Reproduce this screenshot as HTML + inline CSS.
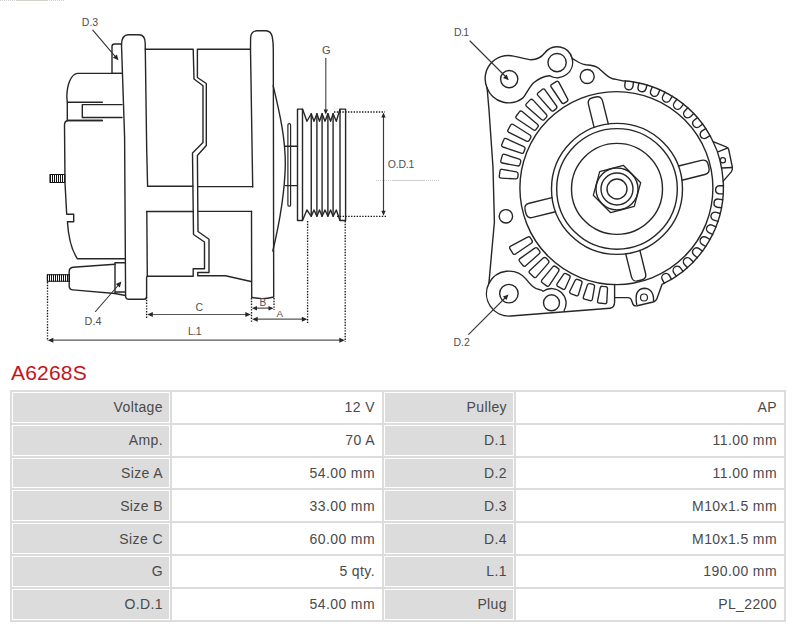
<!DOCTYPE html>
<html><head><meta charset="utf-8"><style>
html,body{margin:0;padding:0;background:#fff;}
body{width:800px;height:627px;position:relative;overflow:hidden;font-family:"Liberation Sans",sans-serif;}
h1{position:absolute;left:11px;top:360.5px;margin:0;font-weight:normal;font-size:21px;line-height:24px;color:#c3141c;letter-spacing:0.2px;}
table{position:absolute;left:10px;top:390px;border-collapse:separate;border-spacing:2px;background:#dcdcdc;}
td{border:1px solid #fff;padding:0 6px 0 0;height:28.8px;box-sizing:content-box;text-align:right;font-size:14px;color:#4a4a4a;background:#fff;letter-spacing:0.4px;}
td.h{background:#dcdcdc;}
</style></head><body>
<svg width="800" height="350" viewBox="0 0 800 350" style="position:absolute;left:0;top:0" font-family="Liberation Sans, sans-serif">
<g stroke="#262626" stroke-width="1.4" fill="none" stroke-linejoin="round" stroke-linecap="round">
<rect x="50" y="174.5" width="14.8" height="8" fill="none" stroke="#111" stroke-width="1.1"/>
<line x1="50.5" y1="174.5" x2="50.5" y2="182.5" stroke="#111" stroke-width="1"/>
<line x1="52.5" y1="174.5" x2="52.5" y2="182.5" stroke="#111" stroke-width="1"/>
<line x1="54.5" y1="174.5" x2="54.5" y2="182.5" stroke="#111" stroke-width="1"/>
<line x1="56.5" y1="174.5" x2="56.5" y2="182.5" stroke="#111" stroke-width="1"/>
<line x1="58.5" y1="174.5" x2="58.5" y2="182.5" stroke="#111" stroke-width="1"/>
<line x1="60.5" y1="174.5" x2="60.5" y2="182.5" stroke="#111" stroke-width="1"/>
<line x1="62.5" y1="174.5" x2="62.5" y2="182.5" stroke="#111" stroke-width="1"/>
<line x1="64.5" y1="174.5" x2="64.5" y2="182.5" stroke="#111" stroke-width="1"/>
<path d="M122 73.4 H77.3 C71 74.5 67 84 66.8 97 L67.3 102.2 H102.4" />
<path d="M67.3 102.2 V120.5 H102.4" />
<path d="M122 104.6 H82.3 V117.5 H122" />
<path d="M102.4 120.5 H68 Q64.5 121 64.5 125 L65 183 L66.7 214.2 H73.7 V221.7 H67.4 C68.5 238 72 251 77.5 258.8 H125.3" />
<path d="M121.5 73.4 H112 V46.5 Q112 44 114.5 44 H121.5" />
<path d="M147.6 186.2 L146.7 150 L145.2 43 Q145 34.7 139 34.7 H128.5 Q121.5 34.7 121.5 45 L124.6 137 L125.6 296 Q125.6 299.3 129 299.3 H144 Q146.6 299.3 146.6 296.5 L146.6 278 Q146.6 276.5 147.4 276.3 M146.8 211.5 L147.3 276.5" />
<path d="M145.2 49.3 H193.2 L194 79 L203 85.7 V142.5 L192.5 153 L193.5 234.5 L204.5 242 V268.7 H193.2 V276.2 H147.4" />
<path d="M250.5 49.3 H197.4 V77.5 L206.3 83.5 V145.5 L197.4 155.5 L198 231.5 L209 239.3 V272.5 H197.7 V275.8 H225.5 L251 281.5" />
<path d="M147.6 186.2 H192.8 M197.6 186.6 H252.7" />
<path d="M146.8 211.5 H193 M198 211.4 H251.5" />
<path d="M252.7 187 L250.5 49.3 L250.6 38 Q251 30.8 257 30.8 H266 Q271 31 272.3 37 Q273.3 42 273.3 50 L273.7 297 Q262.5 300 251.7 297.3 L251.5 211.3" />
<path d="M273.2 85.8 C280.5 116 285.5 140 285.3 165 C284.8 190 279 225 272.8 251" />
<rect x="287.9" y="123.6" width="2.7" height="82.6" rx="1.3" fill="none" stroke="#262626" stroke-width="1.2"/>
<path d="M285.2 146.3 H297.5 M285.2 185.6 H297.5" />
<path d="M297.5 220.5 V109.1 H302.5 L306.9 121.25 L311.25 113.75 L314 121.25 L316.9 113.75 L319.5 121.25 L322.1 113.75 L325 121.25 L327.9 113.75 L330.6 121.25 L333.1 113.75 L336.3 121.25 L340 109.1 H345.6 V220.5 H340 L336.3 210 L333.1 216.3 L330.6 210 L327.9 216.3 L325 210 L322.1 216.3 L319.5 210 L316.9 216.3 L314 210 L311.25 216.3 L306.9 210 L302.5 220.5 Z" />
<path d="M302.5 109.1 V220.5" />
<path d="M311.25 113.75 V216.3" />
<path d="M316.9 113.75 V216.3" />
<path d="M322.1 113.75 V216.3" />
<path d="M327.9 113.75 V216.3" />
<path d="M333.1 113.75 V216.3" />
<path d="M340 109.1 V220.5" />
<line x1="325.8" y1="58.2" x2="325.8" y2="110" stroke="#444" stroke-width="1.1"/>
<path d="M325.8 114.5 L323.6 109.5 L328.0 109.5 Z" fill="#262626" stroke="none"/>
<text x="326.3" y="53.7" font-size="11" fill="#505050" stroke="none" text-anchor="middle" letter-spacing="0">G</text>
<line x1="334" y1="112" x2="385" y2="112" stroke="#1a1a1a" stroke-width="1.35" stroke-dasharray="1.4 1.4" stroke-linecap="butt"/>
<line x1="337" y1="216.3" x2="387" y2="216.3" stroke="#1a1a1a" stroke-width="1.35" stroke-dasharray="1.4 1.4" stroke-linecap="butt"/>
<line x1="383.5" y1="116" x2="383.5" y2="212" stroke="#3a3a3a" stroke-width="1.15"/>
<path d="M383.5 112.5 L385.7 117.5 L381.3 117.5 Z" fill="#262626" stroke="none"/>
<path d="M383.5 215.8 L381.3 210.8 L385.7 210.8 Z" fill="#262626" stroke="none"/>
<text x="387.8" y="168" font-size="10.5" fill="#505050" stroke="none" text-anchor="start" letter-spacing="-0.2">O.D.1</text>
<line x1="376" y1="180.5" x2="392" y2="180.5" stroke="#c8c8c8" stroke-width="1" stroke-dasharray="1 1" stroke-linecap="butt"/>
<line x1="392" y1="180.5" x2="424" y2="180.5" stroke="#d0d0d0" stroke-width="1" stroke-linecap="butt"/>
<line x1="424" y1="180.5" x2="440" y2="180.5" stroke="#c8c8c8" stroke-width="1" stroke-dasharray="1 1" stroke-linecap="butt"/>
<line x1="92.8" y1="30.2" x2="115.5" y2="56.8" stroke="#333" stroke-width="1.1"/>
<path d="M118.5 60.3 L112.9 57.8 L116.9 54.4 Z" fill="#262626" stroke="none"/>
<text x="81.8" y="25.7" font-size="10.5" fill="#505050" stroke="none" text-anchor="start" letter-spacing="0">D.3</text>
<path d="M115 264.2 L73 267.2 Q69.2 267.7 69.2 271.5 V286 Q69.2 289.7 73 289.9 L115 293.5 L125.5 295.5" />
<path d="M115 262.7 H125.3 M115 262.7 V293.5 M115 292 H125.3" />
<rect x="47.3" y="274.8" width="22" height="6.4" fill="none" stroke="#111" stroke-width="1.1"/>
<line x1="47.5" y1="274.8" x2="47.5" y2="281.2" stroke="#111" stroke-width="1"/>
<line x1="49.5" y1="274.8" x2="49.5" y2="281.2" stroke="#111" stroke-width="1"/>
<line x1="51.5" y1="274.8" x2="51.5" y2="281.2" stroke="#111" stroke-width="1"/>
<line x1="53.5" y1="274.8" x2="53.5" y2="281.2" stroke="#111" stroke-width="1"/>
<line x1="55.5" y1="274.8" x2="55.5" y2="281.2" stroke="#111" stroke-width="1"/>
<line x1="57.5" y1="274.8" x2="57.5" y2="281.2" stroke="#111" stroke-width="1"/>
<line x1="59.5" y1="274.8" x2="59.5" y2="281.2" stroke="#111" stroke-width="1"/>
<line x1="61.5" y1="274.8" x2="61.5" y2="281.2" stroke="#111" stroke-width="1"/>
<line x1="63.5" y1="274.8" x2="63.5" y2="281.2" stroke="#111" stroke-width="1"/>
<line x1="65.5" y1="274.8" x2="65.5" y2="281.2" stroke="#111" stroke-width="1"/>
<line x1="67.5" y1="274.8" x2="67.5" y2="281.2" stroke="#111" stroke-width="1"/>
<line x1="69.5" y1="274.8" x2="69.5" y2="281.2" stroke="#111" stroke-width="1"/>
<line x1="95.5" y1="311.5" x2="118.5" y2="285" stroke="#333" stroke-width="1.1"/>
<path d="M121.4 281.6 L119.8 287.5 L115.8 284.1 Z" fill="#262626" stroke="none"/>
<text x="84.6" y="325" font-size="10.8" fill="#505050" stroke="none" text-anchor="start" letter-spacing="0">D.4</text>
<line x1="47.5" y1="282" x2="47.5" y2="341" stroke="#1a1a1a" stroke-width="1.35" stroke-dasharray="1.4 1.4" stroke-linecap="butt"/>
<line x1="146.6" y1="297" x2="146.6" y2="318" stroke="#1a1a1a" stroke-width="1.35" stroke-dasharray="1.4 1.4" stroke-linecap="butt"/>
<line x1="251.5" y1="298" x2="251.5" y2="322" stroke="#1a1a1a" stroke-width="1.35" stroke-dasharray="1.4 1.4" stroke-linecap="butt"/>
<line x1="274" y1="298" x2="274" y2="310" stroke="#1a1a1a" stroke-width="1.35" stroke-dasharray="1.4 1.4" stroke-linecap="butt"/>
<line x1="307.6" y1="221" x2="307.6" y2="323" stroke="#1a1a1a" stroke-width="1.35" stroke-dasharray="1.4 1.4" stroke-linecap="butt"/>
<line x1="345.2" y1="221" x2="345.2" y2="342" stroke="#1a1a1a" stroke-width="1.35" stroke-dasharray="1.4 1.4" stroke-linecap="butt"/>
<line x1="151" y1="314.5" x2="247" y2="314.5" stroke="#555" stroke-width="1.2"/>
<path d="M147.3 314.5 L152.8 312.0 L152.8 317.0 Z" fill="#262626" stroke="none"/>
<path d="M250.8 314.5 L245.3 317.0 L245.3 312.0 Z" fill="#262626" stroke="none"/>
<text x="199.2" y="310.7" font-size="10.5" fill="#505050" stroke="none" text-anchor="middle" letter-spacing="0">C</text>
<line x1="256" y1="308.2" x2="269" y2="308.2" stroke="#555" stroke-width="1.2"/>
<path d="M252.0 308.2 L257.0 305.9 L257.0 310.5 Z" fill="#262626" stroke="none"/>
<path d="M273.5 308.2 L268.5 310.5 L268.5 305.9 Z" fill="#262626" stroke="none"/>
<text x="262.9" y="306" font-size="10" fill="#505050" stroke="none" text-anchor="middle" letter-spacing="0">B</text>
<line x1="256" y1="319.2" x2="303" y2="319.2" stroke="#555" stroke-width="1.2"/>
<path d="M252.2 319.2 L257.7 316.7 L257.7 321.7 Z" fill="#262626" stroke="none"/>
<path d="M307.3 319.2 L301.8 321.7 L301.8 316.7 Z" fill="#262626" stroke="none"/>
<text x="279.8" y="317.2" font-size="9.8" fill="#505050" stroke="none" text-anchor="middle" letter-spacing="0">A</text>
<line x1="52" y1="340.2" x2="340" y2="340.2" stroke="#555" stroke-width="1.2"/>
<path d="M47.8 340.2 L53.3 337.7 L53.3 342.7 Z" fill="#262626" stroke="none"/>
<path d="M344.8 340.2 L339.3 342.7 L339.3 337.7 Z" fill="#262626" stroke="none"/>
<text x="194.5" y="334.7" font-size="10.5" fill="#505050" stroke="none" text-anchor="middle" letter-spacing="-0.6">L.1</text>
<circle cx="617.0" cy="189.0" r="10" fill="none" stroke="#262626" stroke-width="1.4"/>
<circle cx="617.0" cy="189.0" r="16" fill="none" stroke="#262626" stroke-width="1.4"/>
<circle cx="617.0" cy="189.0" r="21" fill="none" stroke="#262626" stroke-width="1.4"/>
<polygon points="623.3,165.3 640.7,182.7 634.3,206.3 610.7,212.7 593.3,195.3 599.7,171.7" fill="none" stroke="#262626" stroke-width="1.3"/>
<circle cx="617.0" cy="188.9" r="45.5" fill="none" stroke="#262626" stroke-width="1.4"/>
<circle cx="617.0" cy="188.9" r="60.3" fill="none" stroke="#262626" stroke-width="1.4"/>
<circle cx="617.0" cy="188.9" r="65.5" fill="none" stroke="#262626" stroke-width="1.4"/>
<circle cx="616.4" cy="188.1" r="96.5" fill="none" stroke="#262626" stroke-width="1.4"/>
<path d="M608.3 123.9 L602.6 101.1 Q601.3 95.6 595.8 97.0 L592.5 97.8 Q587.1 99.2 588.5 104.6 L594.1 127.4" />
<path d="M682.0 180.2 L704.8 174.5 Q710.3 173.2 708.9 167.7 L708.1 164.4 Q706.7 159.0 701.3 160.4 L678.5 166.0" />
<path d="M625.7 253.9 L631.4 276.7 Q632.7 282.2 638.2 280.8 L641.5 280.0 Q646.9 278.6 645.5 273.2 L639.9 250.4" />
<path d="M552.0 197.6 L529.2 203.3 Q523.7 204.6 525.1 210.1 L525.9 213.4 Q527.3 218.8 532.7 217.4 L555.5 211.8" />
<path d="M517.8 177.1 Q517.5 179.1 515.5 178.9 L501.1 178.1 Q499.1 178.0 499.3 176.1 L500.0 170.9 Q500.2 168.9 502.2 169.3 L516.4 171.9 Q518.3 172.3 518.1 174.3 Z" fill="none" stroke="#262626" stroke-width="1.35"/>
<path d="M520.0 164.3 Q519.5 166.3 517.5 165.9 L502.3 163.0 Q500.4 162.6 500.9 160.7 L502.2 155.6 Q502.7 153.7 504.6 154.3 L519.2 159.1 Q521.1 159.7 520.7 161.6 Z" fill="none" stroke="#262626" stroke-width="1.35"/>
<path d="M523.8 152.0 Q523.1 153.9 521.2 153.2 L503.0 147.0 Q501.1 146.3 501.8 144.5 L503.8 139.7 Q504.5 137.8 506.3 138.6 L523.8 146.7 Q525.6 147.5 524.8 149.4 Z" fill="none" stroke="#262626" stroke-width="1.35"/>
<path d="M529.2 140.3 Q528.2 142.0 526.4 141.1 L508.9 132.4 Q507.1 131.5 508.0 129.8 L510.6 125.2 Q511.6 123.5 513.3 124.5 L529.9 135.0 Q531.6 136.1 530.6 137.8 Z" fill="none" stroke="#262626" stroke-width="1.35"/>
<path d="M536.1 129.3 Q534.9 130.9 533.3 129.8 L516.8 118.8 Q515.1 117.6 516.3 116.0 L519.4 111.9 Q520.6 110.3 522.2 111.5 L537.4 124.2 Q539.0 125.5 537.8 127.1 Z" fill="none" stroke="#262626" stroke-width="1.35"/>
<path d="M544.4 119.4 Q543.0 120.8 541.5 119.5 L526.6 106.4 Q525.1 105.1 526.5 103.6 L530.1 99.9 Q531.5 98.5 532.9 99.9 L546.4 114.5 Q547.7 115.9 546.3 117.4 Z" fill="none" stroke="#262626" stroke-width="1.35"/>
<path d="M553.8 110.6 Q552.3 111.8 551.0 110.3 L537.9 95.4 Q536.6 93.9 538.2 92.7 L542.2 89.4 Q543.8 88.2 545.0 89.8 L556.5 106.0 Q557.6 107.6 556.0 108.9 Z" fill="none" stroke="#262626" stroke-width="1.35"/>
<path d="M564.4 103.1 Q562.7 104.1 561.6 102.5 L551.2 87.0 Q550.1 85.3 551.8 84.3 L556.2 81.7 Q558.0 80.6 558.9 82.4 L567.6 98.9 Q568.5 100.7 566.8 101.7 Z" fill="none" stroke="#262626" stroke-width="1.35"/>
<path d="M605.6 286.6 Q607.6 286.9 607.5 288.9 L606.8 301.9 Q606.8 303.9 604.8 303.7 L599.2 303.0 Q597.2 302.7 597.6 300.8 L600.2 288.0 Q600.6 286.0 602.6 286.3 Z" fill="none" stroke="#262626" stroke-width="1.35"/>
<path d="M592.9 284.4 Q594.9 284.9 594.5 286.9 L592.4 299.1 Q592.0 301.1 590.1 300.6 L584.7 299.2 Q582.7 298.7 583.4 296.8 L587.4 285.0 Q588.1 283.2 590.0 283.7 Z" fill="none" stroke="#262626" stroke-width="1.35"/>
<path d="M580.7 280.6 Q582.5 281.3 581.9 283.2 L578.5 294.5 Q577.9 296.4 576.0 295.6 L570.8 293.6 Q569.0 292.8 569.9 291.0 L575.1 280.5 Q576.0 278.7 577.9 279.5 Z" fill="none" stroke="#262626" stroke-width="1.35"/>
<path d="M569.0 275.2 Q570.8 276.2 569.9 278.0 L565.3 288.3 Q564.5 290.1 562.7 289.1 L557.8 286.4 Q556.1 285.4 557.2 283.7 L563.5 274.4 Q564.6 272.8 566.4 273.8 Z" fill="none" stroke="#262626" stroke-width="1.35"/>
<path d="M558.1 268.4 Q559.7 269.6 558.6 271.3 L549.3 285.4 Q548.2 287.1 546.6 285.9 L542.3 282.7 Q540.7 281.5 542.0 279.9 L552.8 266.9 Q554.1 265.4 555.7 266.6 Z" fill="none" stroke="#262626" stroke-width="1.35"/>
<path d="M548.2 260.2 Q549.7 261.6 548.4 263.1 L536.4 276.9 Q535.1 278.4 533.7 277.0 L529.8 273.3 Q528.3 271.9 529.8 270.5 L543.2 258.1 Q544.6 256.8 546.1 258.1 Z" fill="none" stroke="#262626" stroke-width="1.35"/>
<path d="M539.5 250.9 Q540.7 252.4 539.2 253.8 L525.7 265.7 Q524.2 267.1 523.0 265.5 L519.6 261.3 Q518.4 259.7 520.0 258.6 L534.7 248.1 Q536.3 246.9 537.6 248.5 Z" fill="none" stroke="#262626" stroke-width="1.35"/>
<path d="M532.0 240.4 Q533.0 242.1 531.3 243.3 L515.5 254.0 Q513.8 255.1 512.8 253.4 L510.0 248.8 Q509.0 247.1 510.7 246.1 L527.6 237.1 Q529.4 236.2 530.4 237.9 Z" fill="none" stroke="#262626" stroke-width="1.35"/>
<path d="M633.5 81.9 L633.0 86.2 A4.1 4.1 0 0 1 624.8 85.2 L625.4 80.9" />
<path d="M647.0 85.0 L645.9 89.1 A4.1 4.1 0 0 1 638.0 87.1 L639.0 82.9" />
<path d="M659.9 89.8 L658.3 93.8 A4.1 4.1 0 0 1 650.7 90.7 L652.3 86.7" />
<path d="M672.2 96.2 L670.1 100.0 A4.1 4.1 0 0 1 662.9 96.0 L665.0 92.2" />
<path d="M683.5 104.1 L680.9 107.6 A4.1 4.1 0 0 1 674.3 102.7 L676.9 99.3" />
<path d="M693.7 113.5 L690.7 116.6 A4.1 4.1 0 0 1 684.8 110.9 L687.8 107.8" />
<path d="M702.6 124.0 L699.2 126.7 A4.1 4.1 0 0 1 694.1 120.3 L697.5 117.6" />
<path d="M710.0 135.7 L706.4 137.9 A4.1 4.1 0 0 1 702.1 130.9 L705.8 128.7" />
<path d="M723.3 193.9 L719.0 193.8 A4.1 4.1 0 0 1 719.2 185.7 L723.5 185.7" />
<path d="M721.5 207.8 L717.3 207.2 A4.1 4.1 0 0 1 718.5 199.1 L722.8 199.7" />
<path d="M718.0 221.4 L713.9 220.2 A4.1 4.1 0 0 1 716.2 212.3 L720.3 213.5" />
<path d="M712.7 234.4 L708.8 232.6 A4.1 4.1 0 0 1 712.1 225.1 L716.0 226.9" />
<path d="M705.8 246.5 L702.1 244.3 A4.1 4.1 0 0 1 706.4 237.3 L710.0 239.5" />
<path d="M697.3 257.7 L694.0 255.0 A4.1 4.1 0 0 1 699.1 248.6 L702.5 251.3" />
<path d="M687.5 267.7 L684.5 264.6 A4.1 4.1 0 0 1 690.4 258.9 L693.4 262.0" />
<path d="M676.4 276.3 L673.9 272.8 A4.1 4.1 0 0 1 680.5 267.9 L683.0 271.4" />
<path d="M664.4 283.3 L662.3 279.6 A4.1 4.1 0 0 1 669.5 275.6 L671.5 279.4" />
<path d="M487.1 88 A23.2 23.2 0 0 1 513.7 56.1 C520 57 526 59.7 531.25 59.7 C537 59.7 541.5 57 544.7 53.0 A15.5 15.5 0 0 1 572.1 58.3 C577 61 580 64 586 64.8 C592 65.3 596 66 599 68.5 C603 72 607 77 612 78.5 C615 79.3 618 79.6 622.0 80.7 A107 107 0 0 1 713.1 141.7 L726.2 146.8 Q728.5 147.8 728.8 150 L732.4 167.4 Q732.5 170 731.3 171.9 L723.2 181.1 A107 107 0 0 1 662.0 284.4 L657.5 297 Q656.5 301 653 302 L637.2 305.8 Q633.5 306.3 632.7 303.5 L631.2 299.5 Q630.2 297.6 628 297.6 H614.6" />
<path d="M614.6 284.4 V302 Q614.4 307.9 610 308.2 L510.7 316.0 A22.5 22.5 0 0 1 488.9 283.4 L494.4 222 L493 167.5 L489 110 L487.1 88" />
<path d="M717.9 151.8 L727.9 147.9 M721.8 168 L732 167.5" />
<path d="M713.1 141.7 Q721.5 158 723.2 181.1" />
<path d="M487.1 88 A23.2 23.2 0 0 0 523.0 97.9 C527 93 529 87 534 82.5 C538 79 543 76.5 549.4 75.7 A15.5 15.5 0 0 0 572.1 58.3" />
<path d="M488.9 283.4 A22.5 22.5 0 0 1 526.1 279.1 C530 284 534 289.3 540 289.8 Q541.5 289.8 543.1 291.2 A14.6 14.6 0 0 1 564.1 310.5" />
<circle cx="509.2" cy="79.1" r="8.6" fill="none" stroke="#262626" stroke-width="1.4"/>
<circle cx="508.9" cy="293.6" r="9.25" fill="none" stroke="#262626" stroke-width="1.4"/>
<circle cx="557.1" cy="62.6" r="9.15" fill="none" stroke="#262626" stroke-width="1.4"/>
<circle cx="551.5" cy="302.8" r="8" fill="none" stroke="#262626" stroke-width="1.4"/>
<circle cx="587.2" cy="76.5" r="7" fill="none" stroke="#262626" stroke-width="1.4"/>
<circle cx="505.9" cy="216.3" r="6.7" fill="none" stroke="#262626" stroke-width="1.4"/>
<circle cx="722.9" cy="160.2" r="2.6" fill="none" stroke="#262626" stroke-width="1.2"/>
<circle cx="644.0" cy="297.5" r="3.5" fill="none" stroke="#262626" stroke-width="1.2"/>
<path d="M636.7 304.3 Q634 289 644 288.2 Q654 288.5 653.6 301.5" />
<line x1="470" y1="41" x2="505.5" y2="76.5" stroke="#333" stroke-width="1.1"/>
<path d="M508.8 80.2 L503.1 78.1 L506.7 74.5 Z" fill="#262626" stroke="none"/>
<text x="454" y="36" font-size="10.5" fill="#505050" stroke="none" text-anchor="start" letter-spacing="-0.6">D.1</text>
<line x1="468.7" y1="334.4" x2="505" y2="298" stroke="#333" stroke-width="1.1"/>
<path d="M508.6 294.4 L506.5 300.1 L502.9 296.5 Z" fill="#262626" stroke="none"/>
<text x="453.4" y="345.9" font-size="10.5" fill="#505050" stroke="none" text-anchor="start" letter-spacing="0">D.2</text>
<line x1="0" y1="0.5" x2="16" y2="0.5" stroke="#d0d0d0" stroke-width="1" stroke-dasharray="1 1" stroke-linecap="butt"/>
<line x1="16" y1="0.5" x2="48" y2="0.5" stroke="#d4d0cc" stroke-width="1" stroke-linecap="butt"/>
<line x1="49" y1="0.5" x2="64" y2="0.5" stroke="#d0d0d0" stroke-width="1" stroke-dasharray="1 1" stroke-linecap="butt"/>
</g></svg>
<h1>A6268S</h1>
<table>
<colgroup><col style="width:158px"><col style="width:210px"><col style="width:130px"><col style="width:268px"></colgroup>
<tr><td class="h">Voltage</td><td>12 V</td><td class="h">Pulley</td><td>AP</td></tr>
<tr><td class="h">Amp.</td><td>70 A</td><td class="h">D.1</td><td>11.00 mm</td></tr>
<tr><td class="h">Size A</td><td>54.00 mm</td><td class="h">D.2</td><td>11.00 mm</td></tr>
<tr><td class="h">Size B</td><td>33.00 mm</td><td class="h">D.3</td><td>M10x1.5 mm</td></tr>
<tr><td class="h">Size C</td><td>60.00 mm</td><td class="h">D.4</td><td>M10x1.5 mm</td></tr>
<tr><td class="h">G</td><td>5 qty.</td><td class="h">L.1</td><td>190.00 mm</td></tr>
<tr><td class="h">O.D.1</td><td>54.00 mm</td><td class="h">Plug</td><td>PL_2200</td></tr>
</table>
</body></html>
